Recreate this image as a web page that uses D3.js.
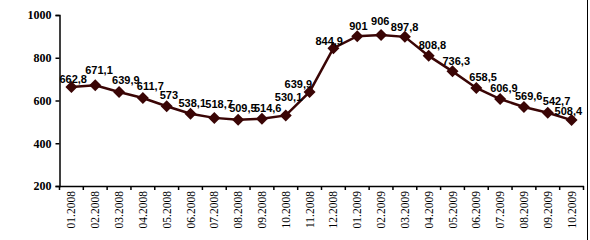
<!DOCTYPE html>
<html><head><meta charset="utf-8">
<script src="https://cdn.jsdelivr.net/npm/d3@7"></script>
<style>body{margin:0;background:#fff}svg{display:block}</style>
</head><body>
<svg id="c" width="590" height="240"></svg>
<script>
const categories = ["01.2008","02.2008","03.2008","04.2008","05.2008","06.2008","07.2008","08.2008","09.2008","10.2008","11.2008","12.2008","01.2009","02.2009","03.2009","04.2009","05.2009","06.2009","07.2009","08.2009","09.2009","10.2009"];
const values = [662.8,671.1,639.9,611.7,573,538.1,518.7,509.5,514.6,530.1,639.9,844.9,901,906,897.8,808.8,736.3,658.5,606.9,569.6,542.7,508.4];
const labels = ["662,8","671,1","639,9","611,7","573","538,1","518,7","509,5","514,6","530,1","639,9","844,9","901","906","897,8","808,8","736,3","658,5","606,9","569,6","542,7","508,4"];
const yTicks = [200,400,600,800,1000];
// layout: label nudges (px) relative to marker, as placed in the reference
const labelDx = [-12,-10,-7,-6,-7,-12,-9,-9,-8,-11,-25,-18,-8,-10,-14,-10,-10,-7,-10,-9,-5,-17];
const labelDy = [-4,-11,-8,-8,-7,-7,-10,-8,-7,-14,-4,-3,-6,-10,-6,-7,-6,-7,-7,-7,-8,-5];

const svg = d3.select("#c");
const col = "#3a0505";
const x = d3.scaleBand().domain(categories).range([59.5, 583.5]);
const y = d3.scaleLinear().domain([200,1000]).range([186, 15]);

svg.append("line").attr("x1",587.5).attr("x2",587.5).attr("y1",0).attr("y2",240).attr("stroke","#000").attr("stroke-width",1);

const ya = svg.append("g").attr("transform","translate(59.5,0)")
  .call(d3.axisLeft(y).tickValues(yTicks).tickSize(4).tickPadding(4).tickFormat(d3.format("d")));
ya.select(".domain").attr("stroke","#000").attr("stroke-width",1.5);
ya.selectAll(".tick line").attr("stroke","#000").attr("stroke-width",1.5);
ya.selectAll("text").attr("font-family","'Liberation Serif','Times New Roman',serif").attr("font-weight","bold").attr("font-size","12px").attr("fill","#000");

const xa = svg.append("g").attr("transform","translate(0,186)")
  .call(d3.axisBottom(x).tickSize(0).tickPadding(0));
xa.select(".domain").attr("stroke","#000").attr("stroke-width",1.5);
xa.selectAll(".tick line").remove();
const bounds = categories.map(c => x(c)).concat([x.range()[1]]);
xa.selectAll("line.bt").data(bounds).enter().append("line").attr("class","bt")
  .attr("x1",d=>d).attr("x2",d=>d).attr("y1",0).attr("y2",4).attr("stroke","#000").attr("stroke-width",1.5);
xa.selectAll(".tick text")
  .attr("font-family","'Liberation Serif','Times New Roman',serif").attr("font-size","11.5px").attr("fill","#000")
  .attr("transform","rotate(-90)").attr("text-anchor","end").attr("x",-5).attr("y",0).attr("dy","0.35em");

const cx = d => x(d.c) + x.bandwidth()/2;
const data = categories.map((c,i)=>({c, v: values[i], l: labels[i], dx: labelDx[i], dy: labelDy[i]}));

svg.append("path").datum(data)
  .attr("d", d3.line().x(cx).y(d=>y(d.v)))
  .attr("fill","none").attr("stroke",col).attr("stroke-width",2.5);

svg.selectAll("path.m").data(data).enter().append("path").attr("class","m")
  .attr("transform", d=>`translate(${cx(d)},${y(d.v)})`)
  .attr("d","M0,-6L6,0L0,6L-6,0Z").attr("fill",col);

svg.selectAll("text.lb").data(data).enter().append("text").attr("class","lb")
  .attr("x", d=>cx(d)+d.dx).attr("y", d=>y(d.v)+d.dy)
  .attr("font-family","'Liberation Sans',Arial,sans-serif").attr("font-weight","bold").attr("font-size","11px").attr("fill","#000")
  .text(d=>d.l);
</script>
</body></html>
